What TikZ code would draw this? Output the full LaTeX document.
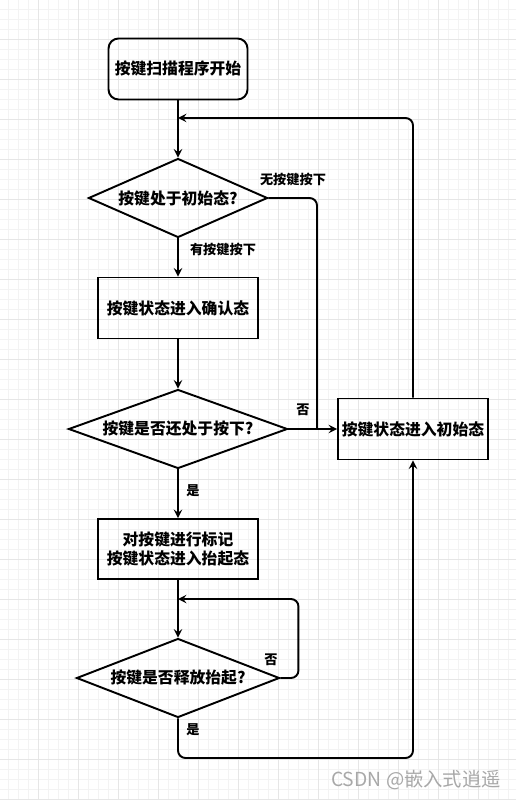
\documentclass[tikz,border=0pt]{standalone}
\usepackage{fontspec}
\usepackage{tikz}
\usetikzlibrary{calc}
\usetikzlibrary{positioning}
\usetikzlibrary{arrows}
\usetikzlibrary{shapes.geometric}

\newfontfamily\cjk{Noto Sans CJK SC}
\definecolor{gridminor}{HTML}{F3F3F3}
\definecolor{gridmajor}{HTML}{E6E6E6}
\definecolor{markgray}{HTML}{A8A8A8}

\begin{document}
\begin{tikzpicture}[
    x = .02cm,
    y = -.02cm,
    >=stealth,
    font = \cjk\bfseries\fontsize{9}{11}\selectfont,
    startf/.style = {
      rectangle,
      draw,
      line width=1.1pt,
      rounded corners=2mm,
      minimum width=2.78cm,
      minimum height=1.22cm,
      inner sep=0pt
    },
    procf/.style = {
      rectangle,
      draw,
      line width=1.1pt,
      minimum width=3.2cm,
      minimum height=1.22cm,
      inner sep=0pt,
      align=center
    },
    askf/.style = {
      diamond,
      draw,
      line width=1.1pt,
      inner sep=0pt,
      minimum height=1.58cm
    },
    flow/.style = {
      line width=1.1pt,
      rounded corners=1.5mm
    },
    labelf/.style = {
      font=\cjk\bfseries\fontsize{7.5}{9}\selectfont
    }
  ]
    % background grid
    \useasboundingbox (0,0) rectangle (516,800);
    \foreach \i in {8,18,...,516} \draw[gridminor, line width=.4pt] (\i,0) -- (\i,800);
    \foreach \i in {9,19,...,800} \draw[gridminor, line width=.4pt] (0,\i) -- (516,\i);
    \foreach \i in {38,78,...,516} \draw[gridmajor, line width=.5pt] (\i,0) -- (\i,800);
    \foreach \i in {39,79,...,800} \draw[gridmajor, line width=.5pt] (0,\i) -- (516,\i);

    \node[startf] (start) at (178,69) {按键扫描程序开始};
    \node[askf, aspect=2.27, minimum width=3.58cm] (idle) at (178,198) {按键处于初始态?};
    \node[procf] (confirm) at (178,308) {按键状态进入确认态};
    \node[askf, aspect=2.77, minimum width=4.38cm] (still) at (178,429) {按键是否还处于按下?};
    \node[procf, minimum width=3cm] (reset) at (413,429) {按键状态进入初始态};
    \node[procf, minimum height=1.2cm] (mark) at (178,549) {对按键进行标记\\按键状态进入抬起态};
    \node[askf, aspect=2.54, minimum width=4.06cm] (release) at (178,678) {按键是否释放抬起?};

    \node[labelf] (nokey) at (293,180) {无按键按下};
    \node[labelf] (haskey) at (223,250) {有按键按下};
    \node[labelf] (no1) at (303,410) {否};
    \node[labelf] (yes1) at (193,491) {是};
    \node[labelf] (no2) at (271,660) {否};
    \node[labelf] (yes2) at (193,730) {是};

    \node[font=\cjk\fontsize{11}{13}\selectfont, text=markgray] (csdn) at (416,780) {CSDN @嵌入式逍遥};

    \coordinate (back) at (178,118);
    \coordinate (join) at (317,429);
    \coordinate (loop) at (178,599);
    \coordinate (down) at (413,758);

    \draw[->, flow] (start) -- (idle);
    \draw[->, flow] (idle) -- (confirm);
    \draw[->, flow] (confirm) -- (still);
    \draw[->, flow] (still) -- (reset);
    \draw[->, flow] (still) -- (mark);
    \draw[->, flow] (mark) -- (release);

    \draw[flow] (idle.east) -| (join);
    \draw[->, flow] (reset.north) |- (back);
    \draw[->, flow] (release.east) -- ++(18,0) |- (loop);
    \draw[->, flow] (release.south) |- (down) -- (reset.south);

  \end{tikzpicture}
\end{document}
